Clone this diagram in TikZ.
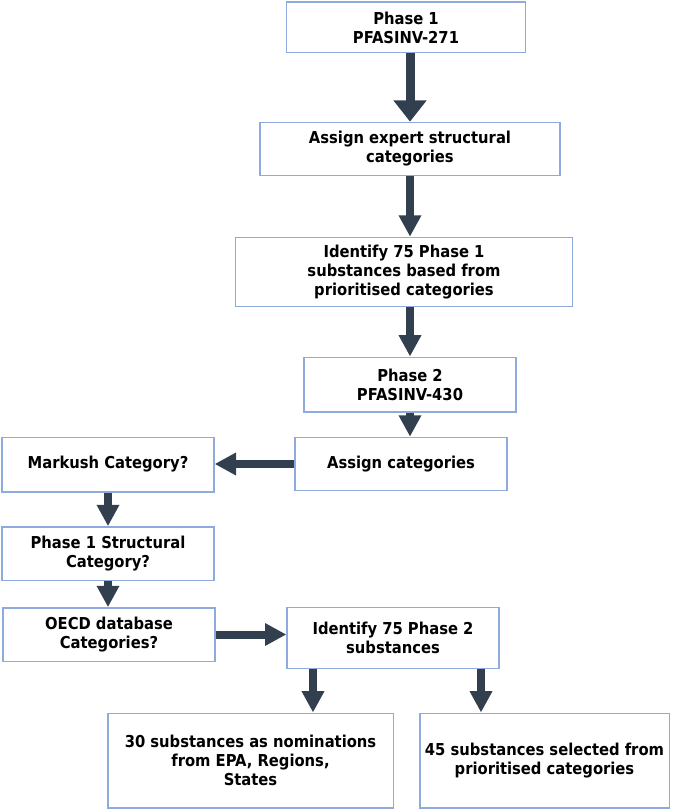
\documentclass[tikz,border=0pt]{standalone}
\usepackage{fontspec}
\setmainfont{DejaVu Sans Condensed}[UprightFont=* Bold]
\usetikzlibrary{arrows.meta}
\definecolor{boxline}{HTML}{8FAADC}
\definecolor{arrowfill}{HTML}{323F4F}
\tikzstyle{box}=[rectangle,fill=white,inner sep=1pt, line width=1pt, draw=boxline, anchor=center, align=center, font=\fontsize{12.3}{14.3}\selectfont]
\tikzstyle{arr}=[draw=arrowfill, line width=6pt, -{Triangle[width=16pt,length=16pt]}, arrowfill]
\tikzstyle{bigarr}=[draw=arrowfill, line width=6.75pt, -{Triangle[width=24pt,length=16pt]}, arrowfill]

\begin{document}
\begin{tikzpicture}[x=0.75pt,y=-0.75pt]
	\useasboundingbox (0,0) rectangle (672,812);

	% phase 1 chain
	\node[box, minimum width=179pt, minimum height=38pt](phaseone) at (406,27.5){Phase 1\\PFASINV-271};
	\node[box, minimum width=225pt, minimum height=40pt](expertcat) at (410,149){Assign expert structural\\categories};
	\node[box, minimum width=253pt, minimum height=52pt](identone) at (404,272){Identify 75 Phase 1\\substances based from\\prioritised categories};

	% phase 2 chain
	\node[box, minimum width=159pt, minimum height=41pt](phasetwo) at (410,384.5){Phase 2\\PFASINV-430};
	\node[box, minimum width=159pt, minimum height=40pt](assigncat) at (401,464){Assign categories};
	\node[box, minimum width=159pt, minimum height=41pt](markush) at (108,464.5){Markush Category?};
	\node[box, minimum width=159pt, minimum height=40pt](structcat) at (108,553.5){Phase 1 Structural\\Category?};
	\node[box, minimum width=159pt, minimum height=40pt](oecdcat) at (109,634.5){OECD database\\Categories?};
	\node[box, minimum width=159pt, minimum height=46pt](identtwo) at (393,638){Identify 75 Phase 2\\substances};

	% results
	\node[box, minimum width=214pt, minimum height=71pt](subthirty) at (250.5,760.5){30 substances as nominations\\from EPA, Regions,\\States};
	\node[box, minimum width=187pt, minimum height=71pt](subfortyfive) at (544.5,760.5){45 substances selected from\\prioritised categories};

	\draw[bigarr] (phaseone.south -| expertcat) -- (expertcat.north);
	\draw[arr] (expertcat.south) -- (expertcat.south |- identone.north);
	\draw[arr] (identone.south -| phasetwo) -- (phasetwo.north);
	\draw[arr] (phasetwo.south) -- (phasetwo.south |- assigncat.north);
	\draw[arr] (assigncat.west) -- (assigncat.west -| markush.east);
	\draw[arr] (markush.south) -- (structcat.north);
	\draw[arr] (structcat.south) -- (oecdcat.north -| structcat.south);
	\draw[arr] (oecdcat.east) -- (oecdcat.east -| identtwo.west);
	\draw[arr] ([xshift=-60pt]identtwo.south) -- ([xshift=-60pt]identtwo.south |- subthirty.north);
	\draw[arr] ([xshift=66pt]identtwo.south) -- ([xshift=66pt]identtwo.south |- subfortyfive.north);
	%\draw[arr] (identtwo.south) -- (subthirty.north);

\end{tikzpicture}
\end{document}
